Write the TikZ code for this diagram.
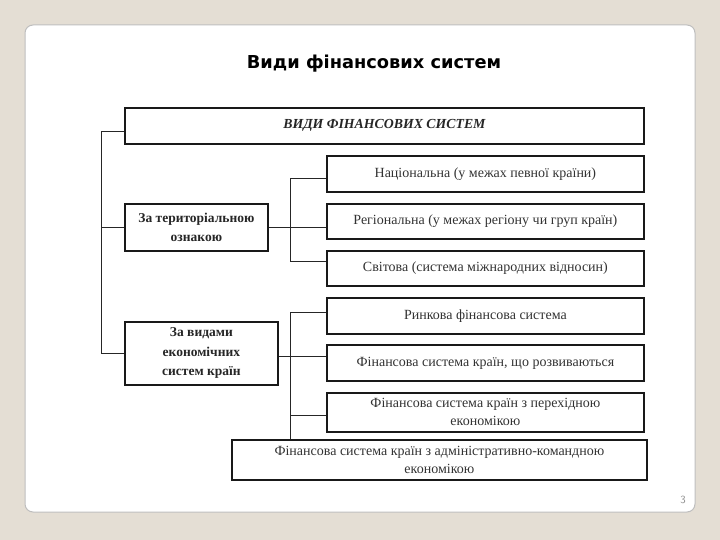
\documentclass[tikz,border=0pt]{standalone}
\usepackage{fontspec}
\setmainfont{Liberation Serif}
\newfontfamily\titlefont{DejaVu Sans}
\begin{document}
\begin{tikzpicture}[x=1pt,y=-1pt,
  box/.style={draw=black!90, line width=1.8pt, fill=white, inner sep=2pt, anchor=north west, align=center, text=black!80, font=\fontsize{14}{18}\selectfont},
  lbox/.style={box, font=\bfseries\fontsize{13.5}{19.5}\selectfont, text=black!85},
  conn/.style={draw=black!85, line width=1.5pt}]
\useasboundingbox (0,0) rectangle (720,540);
\fill[color={rgb,255:red,228;green,222;blue,212}] (0,0) rectangle (720,540);
\draw[fill=white, draw={rgb,255:red,190;green,190;blue,190}, line width=1pt, rounded corners=8pt] (25,25) rectangle (695,512);
\node[font=\titlefont\bfseries\fontsize{17.8}{20}\selectfont] (title) at (374,64) {Види фінансових систем};
\node[font=\sffamily\fontsize{11}{12}\selectfont, text=black!45] (pnum) at (683,500) {3};

\node[box, minimum width=519, minimum height=36, font=\bfseries\itshape\fontsize{13.8}{15}\selectfont, text=black!85] (top) at (124,107) {ВИДИ ФІНАНСОВИХ СИСТЕМ};
\node[lbox, minimum width=143, minimum height=47] (terr) at (124,203) {За територіальною\\ознакою};
\node[lbox, minimum width=153, minimum height=63] (econ) at (124,321) {За видами\\економічних\\систем країн};
\node[box, minimum width=317, minimum height=36] (r1) at (326,155) {Національна (у межах певної країни)};
\node[box, minimum width=317, minimum height=35] (r2) at (326,203) {Регіональна (у межах регіону чи груп країн)};
\node[box, minimum width=317, minimum height=35] (r3) at (326,250) {Світова (система міжнародних відносин)};
\node[box, minimum width=317, minimum height=36] (r4) at (326,297) {Ринкова фінансова система};
\node[box, minimum width=317, minimum height=36] (r5) at (326,344) {Фінансова система країн, що розвиваються};
\node[box, minimum width=317, minimum height=39] (r6) at (326,392) {Фінансова система країн з перехідною\\економікою};
\node[box, minimum width=415, minimum height=40] (r7) at (231,439) {Фінансова система країн з адміністративно-командною\\економікою};

\coordinate (trunk) at (101.5,131.5);
\draw[conn] (trunk -| top.west) -- (trunk) |- (econ.west);
\draw[conn] (trunk) |- (terr.west);

\coordinate (tb1) at (290.5,178.5);
\coordinate (tb3) at (290.5,261.5);
\draw[conn] (tb1 -| r1.west) -- (tb1) -- (tb3) -- (tb3 -| r3.west);
\draw[conn] (terr.east) -- (terr.east -| r2.west);

\coordinate (eb4) at (290.5,312.5);
\coordinate (eb5) at (290.5,356.5);
\coordinate (eb6) at (290.5,415.5);
\draw[conn] (eb4 -| r4.west) -- (eb4) -- (eb4 |- r7.north);
\draw[conn] (econ.east |- eb5) -- (eb5 -| r5.west);
\draw[conn] (eb6) -- (eb6 -| r6.west);
\end{tikzpicture}
\end{document}
